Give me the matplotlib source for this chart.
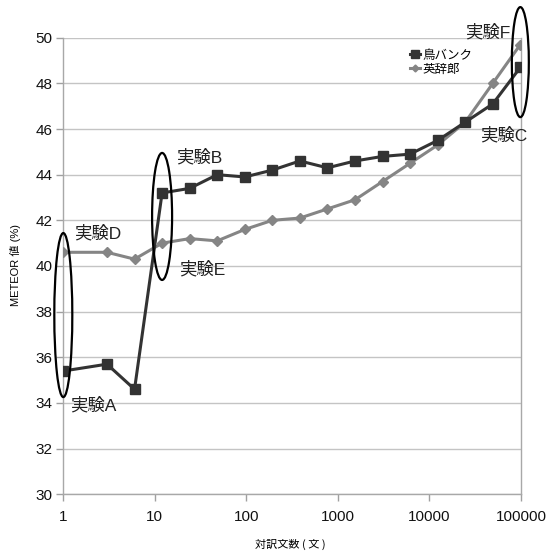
import matplotlib
matplotlib.use("Agg")
import matplotlib.pyplot as plt
from matplotlib.patches import Ellipse
from matplotlib.transforms import ScaledTranslation
from matplotlib.ticker import FixedLocator, FixedFormatter, NullLocator

plt.rcParams['font.family'] = ['Liberation Sans', 'Noto Sans CJK JP', 'DejaVu Sans']

sentences = [1, 3, 6, 12, 24, 48, 96, 192, 384, 768, 1536, 3072, 6144, 12288, 24576, 49152, 98304]
tori_bank = [35.4, 35.7, 34.6, 43.2, 43.4, 44.0, 43.9, 44.2, 44.6, 44.3, 44.6, 44.8, 44.9, 45.5, 46.3, 47.1, 48.7]
eijiro = [40.6, 40.6, 40.3, 41.0, 41.2, 41.1, 41.6, 42.0, 42.1, 42.5, 42.9, 43.7, 44.5, 45.3, 46.3, 48.0, 49.7]
series_names = ['鳥バンク', '英辞郎']
x_ticks = [1, 10, 100, 1000, 10000, 100000]
x_tick_labels = ['1', '10', '100', '1000', '10000', '100000']
y_ticks = [30, 32, 34, 36, 38, 40, 42, 44, 46, 48, 50]
x_label = '対訳文数 ( 文 )'
y_label = 'METEOR 値 (%)'

# annotations: (text, x, y, ha)
labels = [('実験A', 1.18, 33.9, 'left'),
          ('実験D', 1.31, 41.45, 'left'),
          ('実験B', 17.0, 44.77, 'left'),
          ('実験E', 18.4, 39.87, 'left'),
          ('実験C', 117000, 45.74, 'right'),
          ('実験F', 75900, 50.25, 'right')]
# ellipses: (x center, y center, width px, height px)
ellipses = [(1, 37.85, 18, 164),
            (12, 42.17, 20, 127),
            (98304, 48.93, 17, 110)]

fig = plt.figure(figsize=(5.5, 5.51), dpi=100)
ax = fig.add_axes([0.1151, 0.1029, 0.9473 - 0.1151, 0.9316 - 0.1029])

ax.plot(sentences, tori_bank, color='#333333', lw=2.2, marker='s', ms=7.5,
        label=series_names[0], zorder=4)
ax.plot(sentences, eijiro, color='#858585', lw=2.2, marker='D', ms=5,
        label=series_names[1], zorder=3)

ax.set_xscale('log')
ax.set_xlim(1, 100000)
ax.set_ylim(30, 50)
ax.xaxis.set_major_locator(FixedLocator(x_ticks))
ax.xaxis.set_major_formatter(FixedFormatter(x_tick_labels))
ax.xaxis.set_minor_locator(NullLocator())
ax.set_yticks(y_ticks)
ax.set_yticklabels([str(v) for v in y_ticks])
ax.tick_params(axis='both', labelsize=11, colors='#a0a0a0', labelcolor='#111111',
               length=5, width=1, direction='out')
ax.tick_params(axis='x', pad=6)
ax.tick_params(axis='y', pad=3)

ax.grid(axis='y', color='#c4c4c4', lw=1)
ax.set_axisbelow(True)
ax.spines['top'].set_visible(False)
for s in ['left', 'right', 'bottom']:
    ax.spines[s].set_color('#a8a8a8')
    ax.spines[s].set_linewidth(1)

fig.text(290 / 550, 1 - 544 / 551, x_label, ha='center', va='center', fontsize=8,
         family=['Noto Sans CJK JP', 'DejaVu Sans'])
fig.text(15 / 550, 1 - 265 / 551, y_label, ha='center', va='center', fontsize=8,
         rotation=90, family=['Liberation Sans', 'Noto Sans CJK JP'])

for t, x, y, ha in labels:
    ax.text(x, y, t, ha=ha, va='center', fontsize=12.5, color='#222222',
            family=['Liberation Sans', 'Noto Sans CJK JP'], zorder=6)

for x, y, w, h in ellipses:
    tr = fig.dpi_scale_trans + ScaledTranslation(x, y, ax.transData)
    e = Ellipse((0, 0), w / 100, h / 100, transform=tr, fill=False,
                edgecolor='black', lw=1.6, clip_on=False, zorder=5)
    ax.add_artist(e)

leg = ax.legend(loc='upper left', bbox_to_anchor=(401 / 550, 1 - 40 / 551),
                bbox_transform=fig.transFigure, frameon=False,
                handlelength=0.8, handletextpad=0.25, labelspacing=0.05,
                borderpad=0.2, markerscale=0.7,
                prop={'family': ['Noto Sans CJK JP'], 'size': 9})

fig.savefig('out.png', dpi=100, facecolor='white')
